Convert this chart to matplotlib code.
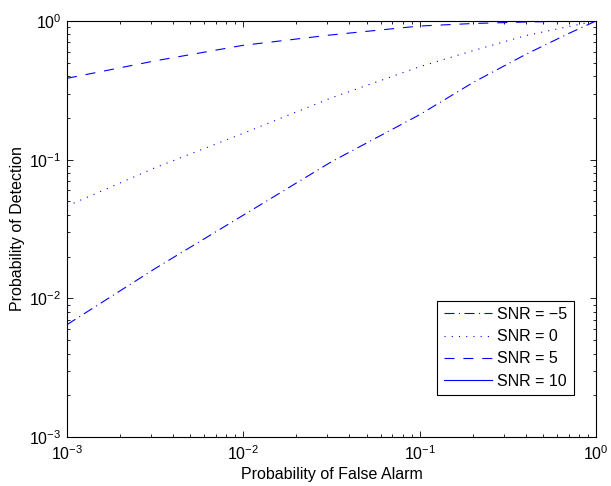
import matplotlib
matplotlib.use("Agg")
import matplotlib.pyplot as plt
from matplotlib.ticker import LogLocator, NullFormatter

plt.rcParams['font.family'] = ['Liberation Sans', 'DejaVu Sans']
plt.rcParams['mathtext.default'] = 'regular'

pfa = [1e-3, 3.16e-3, 1e-2, 3.16e-2, 1e-1, 0.2, 0.4, 0.7, 1.0]
pd_m5 = [0.00646, 0.0164, 0.0398, 0.0966, 0.211, 0.359, 0.575, 0.813, 1.0]
pd_0 = [0.0463, 0.0875, 0.155, 0.279, 0.468, 0.610, 0.785, 0.912, 1.0]
pd_5 = [0.386, 0.516, 0.668, 0.794, 0.920, 0.959, 0.984, 0.995, 1.0]
pd_10 = [0.997, 0.998, 0.999, 0.9995, 0.9998, 0.9999, 1.0, 1.0, 1.0]
labels = ['SNR = \u22125', 'SNR = 0', 'SNR = 5', 'SNR = 10']

fig = plt.figure(figsize=(6.11, 4.86), dpi=100)
ax = fig.add_axes([67/611, 49/486, 529/611, 416/486])

blue = (0, 0, 1)
lw = 0.8
ax.plot(pfa, pd_m5, color=blue, lw=lw, linestyle=(0, (9, 4, 1, 4)), label=labels[0])
ax.plot(pfa, pd_0, color=blue, lw=lw, linestyle=(0, (1, 5.5)), label=labels[1])
ax.plot(pfa, pd_5, color=blue, lw=lw, linestyle=(0, (9, 8)), label=labels[2])
ax.plot(pfa, pd_10, color=blue, lw=lw, linestyle='-', label=labels[3])

ax.set_xscale('log')
ax.set_yscale('log')
ax.set_xlim(1e-3, 1)
ax.set_ylim(1e-3, 1)

for a in (ax.xaxis, ax.yaxis):
    a.set_major_locator(LogLocator(base=10, numticks=10))
    a.set_minor_locator(LogLocator(base=10, subs=range(2, 10), numticks=10))
    a.set_minor_formatter(NullFormatter())

fs = 11.5
ax.tick_params(which='both', direction='in', top=True, right=True, labelsize=fs, colors='black')
ax.tick_params(which='major', length=4, width=0.6)
ax.tick_params(which='minor', length=2.4, width=0.6)
ax.tick_params(axis='x', which='major', pad=5)
ax.tick_params(axis='y', which='major', pad=4)
for s in ax.spines.values():
    s.set_linewidth(0.8)

ax.set_xlabel('Probability of False Alarm', fontsize=fs, labelpad=3)
ax.set_ylabel('Probability of Detection', fontsize=fs, labelpad=3)

leg = ax.legend(loc='lower right', bbox_to_anchor=(0.958, 0.101), borderaxespad=0,
                fontsize=fs, fancybox=False, edgecolor='black', framealpha=1,
                handlelength=3.0, handletextpad=0.35, borderpad=0.4, labelspacing=0.45)
leg.get_frame().set_linewidth(0.8)

fig.savefig('out.png', dpi=100)
